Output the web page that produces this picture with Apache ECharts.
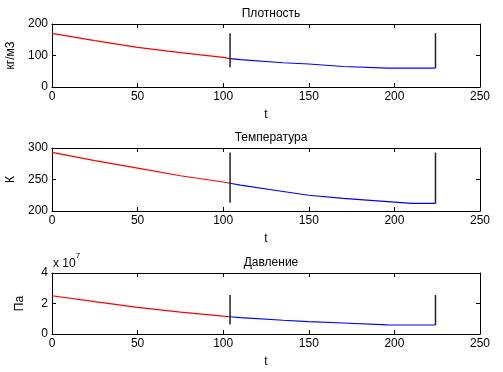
<!DOCTYPE html>
<html>
<head>
<meta charset="utf-8">
<script src="https://cdn.jsdelivr.net/npm/echarts@6/dist/echarts.min.js"></script>
<style>
  html, body { margin: 0; padding: 0; background: #fff; }
  #chart { width: 503px; height: 372px; }
</style>
</head>
<body>
<div id="chart"></div>
<script>
// данные
const titles = ['Плотность', 'Температура', 'Давление']
const yNames = ['кг/м3', 'К', 'Па']
const yRanges = [[0, 200, 100], [200, 300, 50], [0, 4, 2]]

const tRed = [0, 25, 50, 75, 100, 104]
const tBlue = [104, 110, 135, 150, 170, 196, 210, 224]

const densRed = [170, 147, 126, 109, 94, 90]
const densBlue = [90, 87, 77, 73, 65, 60, 60, 60]
const tempRed = [293, 280, 268, 256, 246, 244]
const tempBlue = [244, 241, 231, 225, 220, 215, 212, 212]
const presRed = [2.51, 2.12, 1.75, 1.43, 1.17, 1.13]
const presBlue = [1.13, 1.07, 0.9, 0.81, 0.72, 0.6, 0.59, 0.59]

const markT = [104, 224]
const markLow = [[63, 60], [213, 212], [0.63, 0.59]]
const markHigh = [[171, 171], [293, 293], [2.56, 2.56]]

const redSets = [densRed, tempRed, presRed]
const blueSets = [densBlue, tempBlue, presBlue]

const font = 'Liberation Sans, Arial, sans-serif'
const gridTops = [24, 148, 273]
const gridHeights = [63, 63, 61]

const chart = echarts.init(document.getElementById('chart'))

const grid = [], xAxis = [], yAxis = [], series = [], title = []

function zip (ts, vs) {
  return ts.map((t, i) => [t, vs[i]])
}

for (let i = 0; i < 3; i++) {
  grid.push({
    left: 52, right: 23, top: gridTops[i], height: gridHeights[i],
    show: false, containLabel: false, outerBoundsMode: 'none'
  })
  title.push({
    text: titles[i], left: 266, top: gridTops[i] - 21, textAlign: 'center',
    textStyle: { fontFamily: font, fontSize: 12, fontWeight: 'normal', color: '#000' }
  })
  const axisBase = {
    min: 0, max: 250, interval: 50, gridIndex: i,
    axisLine: { show: true, onZero: false, lineStyle: { color: '#000', width: 1 } },
    axisTick: { show: true, inside: true, length: 4, lineStyle: { color: '#000' } },
    splitLine: { show: false }
  }
  xAxis.push(Object.assign({}, axisBase, {
    type: 'value', position: 'bottom',
    name: 't', nameLocation: 'middle', nameGap: 22,
    nameTextStyle: { fontFamily: font, fontSize: 12, color: '#000' },
    axisLabel: { fontFamily: font, fontSize: 12, color: '#000', margin: 4 }
  }))
  xAxis.push(Object.assign({}, axisBase, {
    type: 'value', position: 'top', axisLabel: { show: false }
  }))
  const r = yRanges[i]
  const yBase = {
    type: 'value', min: r[0], max: r[1], interval: r[2], gridIndex: i,
    axisLine: { show: true, onZero: false, lineStyle: { color: '#000', width: 1 } },
    axisTick: { show: true, inside: true, length: 4, lineStyle: { color: '#000' } },
    splitLine: { show: false }
  }
  yAxis.push(Object.assign({}, yBase, {
    position: 'left',
    name: yNames[i], nameLocation: 'middle', nameGap: i === 2 ? 26 : 35, nameRotate: 90,
    nameTextStyle: { fontFamily: font, fontSize: 12, color: '#000' },
    axisLabel: { fontFamily: font, fontSize: 12, color: '#000', margin: 4 }
  }))
  yAxis.push(Object.assign({}, yBase, { position: 'right', axisLabel: { show: false } }))

  const common = {
    type: 'line', xAxisIndex: i * 2, yAxisIndex: i * 2,
    showSymbol: false, symbol: 'none', animation: false, silent: true
  }
  series.push(Object.assign({}, common, {
    data: zip(tRed, redSets[i]), lineStyle: { color: '#ff0000', width: 1.2 }
  }))
  series.push(Object.assign({}, common, {
    data: zip(tBlue, blueSets[i]), lineStyle: { color: '#0000ff', width: 1.2 }
  }))
  for (let k = 0; k < 2; k++) {
    series.push(Object.assign({}, common, {
      data: [[markT[k], markLow[i][k]], [markT[k], markHigh[i][k]]],
      lineStyle: { color: '#222', width: 1.5 }
    }))
  }
}

chart.setOption({
  backgroundColor: '#fff',
  animation: false,
  title,
  grid,
  xAxis,
  yAxis,
  series,
  graphic: [{
    type: 'text', left: 53, top: 252,
    style: {
      text: '{a|x 10}{b|7}',
      rich: {
        a: { fontFamily: font, fontSize: 12, fill: '#000', padding: [6, 0, 0, 0] },
        b: { fontFamily: font, fontSize: 8, fill: '#000', verticalAlign: 'top' }
      }
    }
  }]
})
</script>
</body>
</html>
